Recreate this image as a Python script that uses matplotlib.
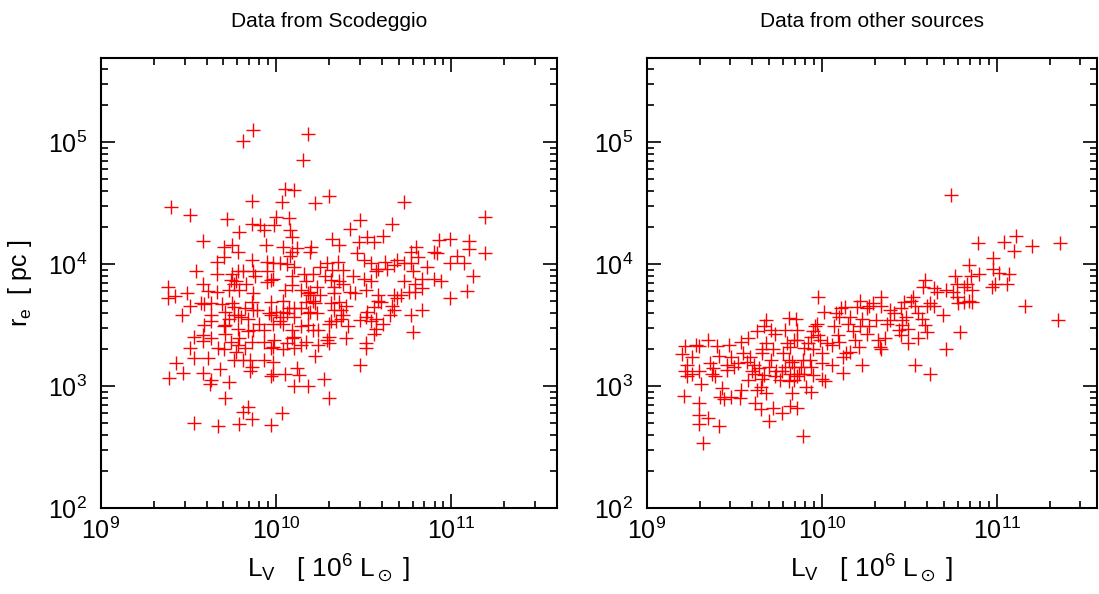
import numpy as np
import matplotlib
matplotlib.use("Agg")
import matplotlib.pyplot as plt
from matplotlib.ticker import LogLocator

plt.rcParams['font.family'] = ['Liberation Sans', 'DejaVu Sans']
plt.rcParams['mathtext.fontset'] = 'custom'
plt.rcParams['mathtext.rm'] = 'Liberation Sans'
plt.rcParams['mathtext.it'] = 'Liberation Sans'
plt.rcParams['mathtext.default'] = 'regular'

# ---- data (log10 values) ----
# Panel 1: Data from Scodeggio
scod_logL = [9.40, 9.51, 9.58, 9.54, 9.38, 9.49, 9.42, 9.81, 9.87, 10.18, 10.15, 10.05, 10.10, 9.86, 10.03,
             10.22, 10.30, 9.72, 9.86, 9.91, 9.93, 9.79, 10.00, 10.07, 9.99, 10.08, 10.09, 10.32, 9.94, 10.04,
             9.70, 9.75, 9.78, 9.70, 9.66, 9.86, 10.09, 10.12, 10.08, 10.19, 10.20, 10.36, 9.95, 9.98, 10.02,
             10.06, 10.10, 10.29, 10.35, 9.66, 9.75, 9.78, 9.81, 9.87, 9.88, 9.95, 9.98, 10.09, 10.16, 10.21,
             10.25, 10.32, 9.74, 9.77, 9.83, 9.95, 9.58, 9.61, 9.66, 9.73, 9.79, 9.87, 10.05, 10.09, 10.14,
             10.17, 10.19, 10.23, 10.31, 10.33, 10.36, 9.38, 9.51, 9.46, 9.59, 9.63, 9.69, 9.75, 9.76, 9.82,
             9.87, 9.63, 9.63, 9.71, 9.78, 9.84, 9.71, 9.78, 9.59, 9.53, 9.58, 9.58, 9.63, 9.51, 9.53,
             9.61, 9.43, 9.47, 9.39, 9.58, 9.68, 9.63, 9.62, 9.73, 9.67, 9.70, 9.74, 9.77, 9.76, 9.71,
             9.79, 9.84, 9.87, 9.86, 9.82, 9.81, 9.85, 9.86, 9.85, 9.93, 9.98, 9.98, 9.97, 9.93, 9.98,
             10.04, 10.05, 10.12, 10.13, 10.10, 10.18, 10.27, 10.30, 10.22, 10.24, 10.17, 10.09, 10.10, 10.06, 10.14,
             9.93, 9.98, 10.02, 9.96, 10.02, 10.06, 10.10, 10.14, 10.18, 10.21, 10.24, 10.31, 10.34, 10.29, 10.30,
             9.97, 10.04, 10.18, 10.19, 10.22, 10.19, 10.23, 10.31, 10.33, 10.21, 9.71, 9.81, 9.84, 9.86, 9.79,
             9.67, 9.53, 9.97, 10.03, 10.47, 10.52, 10.56, 10.61, 10.46, 10.50, 10.54, 10.62, 10.69, 9.97, 9.76,
             10.38, 10.28, 10.38, 10.44, 10.50, 10.54, 10.57, 10.63, 10.67, 10.67, 10.58, 10.56, 10.51, 10.48, 10.45,
             10.40, 10.38, 10.37, 10.41, 10.36, 10.33, 10.25, 10.14, 10.10, 10.07, 10.04, 10.00, 9.97, 10.04, 10.09,
             10.10, 9.99, 9.97, 9.90, 9.80, 9.76, 9.73, 9.70, 9.57, 9.86, 9.89, 10.30, 10.40, 10.51, 10.56,
             10.57, 10.60, 10.66, 10.67, 10.71, 10.48, 9.78, 10.73, 11.19, 10.48, 10.42, 10.66, 10.58, 10.73, 10.77,
             10.80, 10.81, 10.77, 10.78, 10.86, 10.90, 10.92, 10.93, 10.99, 11.03, 10.99, 11.07, 11.10, 11.10, 11.19,
             11.12, 11.09, 10.94, 10.90, 10.83, 10.79, 10.73, 10.69, 10.51, 10.79, 10.83, 10.76, 10.99, 10.83, 10.77,
             10.78, 10.65, 10.61, 10.58, 10.52, 10.54, 10.57, 10.51, 10.37, 10.42, 10.30, 10.17, 10.18]
scod_logr = [4.47, 4.40, 4.19, 3.94, 3.81, 3.76, 3.74, 5.01, 5.10, 5.07, 4.85, 4.62, 4.61, 4.52, 4.51,
             4.50, 4.56, 4.37, 4.33, 4.32, 4.28, 4.26, 4.39, 4.38, 4.32, 4.28, 4.22, 4.21, 4.16, 4.14,
             4.14, 4.16, 4.10, 4.06, 4.02, 4.03, 4.10, 4.13, 4.07, 4.10, 4.14, 4.16, 4.02, 4.01, 4.01,
             4.00, 3.98, 4.01, 4.02, 3.92, 3.92, 3.94, 3.94, 3.94, 3.90, 3.94, 3.88, 3.90, 3.92, 3.92,
             3.98, 3.95, 3.87, 3.86, 3.84, 3.85, 3.84, 3.78, 3.77, 3.79, 3.79, 3.76, 3.79, 3.83, 3.79,
             3.86, 3.77, 3.81, 3.87, 3.81, 3.86, 3.72, 3.66, 3.58, 3.67, 3.68, 3.67, 3.68, 3.65, 3.64,
             3.62, 3.58, 3.53, 3.61, 3.58, 3.55, 3.50, 3.47, 3.50, 3.40, 3.42, 3.37, 3.39, 3.31, 3.23,
             3.23, 3.19, 3.11, 3.07, 3.11, 3.14, 3.05, 3.02, 3.03, 3.31, 3.30, 3.36, 3.28, 3.21, 3.43,
             3.39, 3.45, 3.46, 3.36, 3.31, 3.21, 3.21, 3.16, 3.12, 3.21, 3.20, 3.10, 3.08, 3.36, 3.32,
             3.30, 3.10, 3.15, 3.09, 3.00, 3.00, 3.06, 2.90, 3.25, 3.34, 3.36, 3.39, 3.31, 3.35, 3.34,
             3.46, 3.51, 3.53, 3.60, 3.57, 3.60, 3.57, 3.49, 3.50, 3.46, 3.46, 3.53, 3.53, 3.38, 3.35,
             3.69, 3.70, 3.76, 3.75, 3.68, 3.61, 3.60, 3.68, 3.76, 3.70, 2.90, 2.79, 2.83, 2.73, 2.69,
             2.67, 2.70, 2.68, 2.78, 4.18, 4.22, 4.18, 4.23, 4.09, 4.03, 4.01, 4.02, 4.03, 3.87, 3.84,
             3.95, 3.90, 3.84, 3.90, 3.88, 3.86, 3.94, 3.96, 3.99, 3.75, 3.75, 3.65, 3.57, 3.54, 3.76,
             3.66, 3.58, 3.55, 3.49, 3.69, 3.62, 3.75, 3.64, 3.64, 3.64, 3.61, 3.61, 3.58, 3.51, 3.46,
             3.40, 3.38, 3.31, 3.51, 3.57, 3.58, 3.55, 3.49, 3.68, 3.69, 3.62, 3.40, 3.39, 3.31, 3.43,
             3.47, 3.69, 3.66, 3.62, 3.75, 3.17, 3.34, 4.51, 4.39, 4.36, 4.29, 4.33, 3.96, 4.01, 4.10,
             4.14, 4.06, 4.01, 3.94, 3.98, 4.10, 4.09, 4.20, 4.21, 4.07, 4.01, 4.01, 4.19, 4.12, 4.09,
             3.90, 3.78, 3.86, 3.88, 3.88, 3.84, 3.86, 3.72, 3.79, 3.77, 3.80, 3.77, 3.72, 3.62, 3.58,
             3.44, 3.58, 3.51, 3.70, 3.61, 3.53, 3.55, 3.35, 3.62, 3.77, 3.51, 3.69, 3.60]

# Panel 2: Data from other sources
other_logL = [9.98, 10.01, 10.11, 10.13, 10.08, 10.10, 10.07, 10.22, 10.20, 10.26, 10.27, 10.16, 10.23, 10.15, 10.18,
              10.22, 10.26, 10.27, 10.19, 10.21, 10.14, 10.12, 10.16, 10.23, 10.12, 10.06, 10.02, 10.00, 9.94, 9.91,
              9.89, 9.86, 9.82, 9.77, 9.72, 9.70, 9.65, 9.62, 9.68, 9.65, 9.63, 9.58, 9.54, 9.53, 9.48,
              9.44, 9.42, 9.43, 9.41, 9.35, 9.30, 9.30, 9.30, 9.32, 9.21, 9.22, 9.20, 9.23, 9.22, 9.23,
              9.26, 9.26, 9.28, 9.30, 9.31, 9.30, 9.35, 9.36, 9.38, 9.39, 9.37, 9.40, 9.41, 9.46, 9.47,
              9.48, 9.46, 9.50, 9.52, 9.54, 9.55, 9.58, 9.57, 9.59, 9.61, 9.60, 9.63, 9.66, 9.66, 9.68,
              9.67, 9.68, 9.71, 9.73, 9.72, 9.71, 9.70, 9.74, 9.76, 9.73, 9.67, 9.66, 9.64, 9.62, 9.79,
              9.81, 9.85, 9.86, 9.84, 9.86, 9.80, 9.82, 9.78, 9.81, 9.83, 9.84, 9.79, 9.77, 9.82, 9.84,
              9.86, 9.87, 9.81, 9.83, 9.90, 9.92, 9.94, 9.95, 9.96, 9.97, 9.98, 9.99, 10.00, 9.95, 9.93,
              9.94, 9.89, 9.88, 9.90, 9.95, 10.00, 10.03, 10.06, 10.10, 10.09, 10.74, 10.89, 11.04, 11.11, 11.10,
              11.20, 11.36, 10.98, 10.98, 11.01, 11.07, 11.06, 10.99, 10.97, 10.90, 10.84, 10.85, 10.83, 10.86, 10.81,
              10.76, 10.77, 10.75, 10.77, 10.78, 10.81, 10.84, 10.86, 11.16, 11.35, 10.79, 10.69, 10.71, 10.59, 10.58,
              10.64, 10.66, 10.71, 10.62, 10.64, 10.60, 10.52, 10.51, 10.53, 10.55, 10.57, 10.59, 10.60, 10.55, 10.49,
              10.53, 10.62, 10.33, 10.34, 10.31, 10.34, 10.34, 10.29, 10.39, 10.41, 10.45, 10.47, 10.48, 10.46, 10.46,
              10.44, 10.45, 10.49, 10.39, 10.37, 10.36, 10.32]
other_logr = [3.73, 3.61, 3.64, 3.65, 3.60, 3.57, 3.49, 3.70, 3.65, 3.64, 3.66, 3.57, 3.55, 3.51, 3.45,
              3.49, 3.43, 3.49, 3.38, 3.32, 3.27, 3.24, 3.28, 3.17, 3.11, 3.17, 3.04, 3.06, 2.95, 2.99,
              2.59, 2.82, 2.84, 2.78, 2.82, 2.71, 2.81, 2.86, 2.94, 2.99, 2.97, 3.05, 2.97, 2.90, 2.91,
              2.89, 2.91, 2.98, 2.67, 2.74, 2.86, 2.76, 2.69, 2.53, 2.92, 3.33, 3.26, 3.17, 3.12, 3.08,
              3.24, 3.10, 3.34, 3.33, 3.02, 3.12, 3.38, 3.19, 3.15, 3.08, 3.10, 3.33, 3.25, 3.17, 3.34,
              3.24, 3.13, 3.16, 3.19, 3.36, 3.27, 3.39, 3.20, 3.24, 3.17, 3.12, 3.45, 3.27, 3.30, 3.54,
              3.49, 3.35, 3.46, 3.43, 3.30, 3.21, 3.16, 3.12, 3.05, 3.08, 3.09, 3.06, 3.15, 3.10, 3.46,
              3.56, 3.55, 3.46, 3.38, 3.38, 3.35, 3.32, 3.27, 3.21, 3.20, 3.16, 3.16, 3.12, 3.10, 3.05,
              3.08, 3.10, 3.04, 2.94, 3.31, 3.35, 3.40, 3.45, 3.49, 3.51, 3.42, 3.38, 3.27, 3.30, 3.21,
              3.16, 3.21, 3.16, 3.10, 3.09, 3.19, 3.35, 3.34, 3.36, 3.42, 4.57, 4.17, 4.18, 4.23, 4.11,
              4.15, 4.17, 4.05, 3.96, 3.93, 3.92, 3.84, 3.84, 3.81, 3.92, 3.99, 3.90, 3.84, 3.79, 3.81,
              3.90, 3.84, 3.77, 3.73, 3.68, 3.69, 3.70, 3.69, 3.66, 3.54, 3.44, 3.58, 3.30, 3.87, 3.81,
              3.80, 3.77, 3.79, 3.68, 3.66, 3.66, 3.73, 3.70, 3.66, 3.60, 3.55, 3.50, 3.44, 3.39, 3.35,
              3.17, 3.10, 3.32, 3.30, 3.54, 3.73, 3.66, 3.68, 3.62, 3.60, 3.64, 3.69, 3.57, 3.54, 3.50,
              3.46, 3.42, 3.47, 3.54, 3.51, 3.39, 3.38]

titles = ["Data from Scodeggio", "Data from other sources"]
xlabel = r"L$_\mathregular{V}$   [ 10$^\mathregular{6}$ L$_\odot$ ]"
ylabel = r"r$_\mathregular{e}$  [ pc ]"

fig = plt.figure(figsize=(10.99, 5.94), dpi=100)
ax1 = fig.add_axes([101/1099, 86/594, 456/1099, 450/594])
ax2 = fig.add_axes([647/1099, 86/594, 450/1099, 450/594])

panels = [(ax1, scod_logL, scod_logr, 4.0e11), (ax2, other_logL, other_logr, 3.73e11)]
for i, (ax, lx, ly, xmax) in enumerate(panels):
    L = 10 ** np.asarray(lx)
    r = 10 ** np.asarray(ly)
    ax.plot(L, r, linestyle='none', marker='+', color='#ff0000', ms=9.5, mew=1.0)
    ax.set_xscale('log')
    ax.set_yscale('log')
    ax.set_xlim(1e9, xmax)
    ax.set_ylim(1e2, 4.9e5)
    ax.xaxis.set_major_locator(LogLocator(base=10, numticks=10))
    ax.yaxis.set_major_locator(LogLocator(base=10, numticks=10))
    ax.xaxis.set_minor_locator(LogLocator(base=10, subs=np.arange(2, 10), numticks=20))
    ax.yaxis.set_minor_locator(LogLocator(base=10, subs=np.arange(2, 10), numticks=20))
    ax.tick_params(which='both', direction='in', top=True, right=True, labelsize=18, color='black')
    ax.tick_params(which='major', length=10, width=1.2)
    ax.tick_params(which='minor', length=5, width=1.2)
    ax.tick_params(axis='y', which='major', pad=10)
    ax.tick_params(axis='x', which='major', pad=7)
    for s in ax.spines.values():
        s.set_linewidth(1.5)
    ax.set_title(titles[i], fontsize=15, pad=22)
    ax.set_xlabel(xlabel, fontsize=19, labelpad=6)

ax1.set_ylabel(ylabel, fontsize=18, labelpad=10)

fig.savefig("out.png", dpi=100)
